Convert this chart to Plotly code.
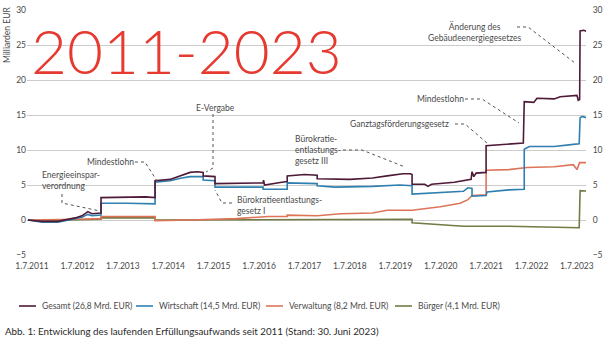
import plotly.graph_objects as go

# ---------------- data ----------------
gesamt_x = [2011.41, 2011.72, 2012.07, 2012.23, 2012.45, 2012.60, 2012.67, 2012.73, 2012.82, 2012.93,
            2013.02, 2013.02, 2013.5, 2014.0, 2014.21, 2014.21, 2014.54, 2014.80, 2014.98, 2015.15,
            2015.27, 2015.27, 2015.53, 2015.53, 2016.0, 2016.59, 2016.60, 2016.62, 2017.0, 2017.12,
            2017.12, 2017.5, 2017.78, 2017.78, 2018.5, 2019.0, 2019.32, 2019.67, 2019.83, 2019.87,
            2019.87, 2020.15, 2020.22, 2020.3, 2020.8, 2021.10, 2021.17, 2021.19, 2021.23, 2021.28,
            2021.50, 2021.50, 2022.0, 2022.32, 2022.34, 2022.55, 2022.62, 2023.0, 2023.13, 2023.50,
            2023.53, 2023.56, 2023.57, 2023.65, 2023.79]
gesamt_y = [0.0, -0.2, -0.2, 0.0, 0.3, 0.6, 1.0, 1.2, 0.9, 1.0,
            1.0, 3.2, 3.3, 3.3, 3.2, 5.6, 5.8, 6.4, 6.8, 6.9,
            6.8, 6.3, 6.2, 5.2, 5.2, 5.3, 5.7, 5.0, 5.4, 5.5,
            6.3, 6.5, 6.4, 5.9, 5.8, 6.0, 6.3, 6.6, 6.6, 6.5,
            5.1, 5.1, 4.8, 5.1, 5.4, 5.7, 5.8, 6.9, 6.2, 6.7,
            6.8, 10.6, 10.8, 11.0, 16.9, 16.8, 17.4, 17.3, 17.6, 17.8,
            17.1, 17.2, 27.0, 27.1, 26.8]

wirtschaft_x = [2011.41, 2011.72, 2012.07, 2012.23, 2012.45, 2012.60, 2012.73, 2012.82, 2013.02, 2013.02,
                2013.6, 2014.21, 2014.21, 2014.54, 2014.80, 2014.98, 2015.27, 2015.27, 2015.53, 2015.53,
                2016.59, 2016.59, 2017.12, 2017.12, 2017.78, 2017.78, 2018.17, 2019.0, 2019.6, 2019.87,
                2019.87, 2020.5, 2021.0, 2021.10, 2021.19, 2021.19, 2021.50, 2021.52, 2022.0, 2022.34,
                2022.34, 2022.45, 2023.0, 2023.42, 2023.55, 2023.57, 2023.62, 2023.79]
wirtschaft_y = [0.0, -0.3, -0.3, -0.1, 0.2, 0.4, 0.8, 0.6, 0.7, 2.4,
                2.4, 2.3, 5.4, 5.6, 6.0, 6.2, 6.2, 5.7, 5.6, 4.7,
                4.7, 4.4, 4.4, 5.3, 5.2, 4.9, 4.7, 4.8, 5.0, 4.9,
                3.7, 3.9, 4.1, 4.6, 4.5, 3.4, 3.5, 4.0, 4.3, 4.4,
                10.1, 10.5, 10.5, 10.8, 10.9, 14.6, 14.8, 14.4]

verwaltung_x = [2011.41, 2012.0, 2012.5, 2013.02, 2013.02, 2014.21, 2014.21, 2014.98, 2015.53, 2016.0,
                2016.7, 2017.12, 2017.12, 2017.78, 2018.3, 2019.0, 2019.32, 2019.87, 2020.49, 2020.93,
                2021.10, 2021.19, 2021.50, 2021.50, 2022.0, 2022.4, 2023.0, 2023.42, 2023.50, 2023.56,
                2023.79]
verwaltung_y = [0.0, 0.0, 0.1, 0.2, 0.5, 0.5, -0.1, 0.0, 0.1, 0.2,
                0.5, 0.5, 0.7, 0.6, 0.9, 1.0, 1.4, 1.4, 1.9, 2.4,
                2.9, 3.5, 3.6, 7.1, 7.2, 7.5, 7.6, 7.9, 7.2, 8.2,
                8.2]

buerger_x = [2011.41, 2011.72, 2012.3, 2013.02, 2013.02, 2014.21, 2014.21, 2016.0, 2017.12, 2018.5,
             2019.87, 2019.87, 2020.5, 2021.0, 2022.0, 2023.5, 2023.55, 2023.57, 2023.65, 2023.79]
buerger_y = [0.0, -0.1, 0.0, 0.1, 0.3, 0.3, 0.0, 0.0, 0.1, 0.1,
             0.1, -0.4, -0.7, -0.9, -0.9, -1.0, -1.1, 4.2, 4.2, 4.1]

tick_years = list(range(2011, 2024))
tick_pos = [y + 0.5 for y in tick_years]
tick_text = [f"1.7.{y}" for y in tick_years]
y_ticks = [-5, 0, 5, 10, 15, 20, 25, 30]

series_names = ["Gesamt (26,8 Mrd. EUR)", "Wirtschaft (14,5 Mrd. EUR)",
                "Verwaltung (8,2 Mrd. EUR)", "Bürger (4,1 Mrd. EUR)"]
colors = ["#4e1a38", "#2f80b0", "#dd7458", "#737a45"]

# ---------------- layout helpers ----------------
W, H = 604, 355
L, R, T, B = 27, 18, 10, 100
PW, PH = W - L - R, H - T - B
FONT = "Lato, 'Open Sans', sans-serif"
TXT = "#4a4a4a"


def fx(px):
    return (px - L) / PW


def fy(py):
    return (T + PH - py) / PH


fig = go.Figure()
fig.add_trace(go.Scatter(x=buerger_x, y=buerger_y, mode="lines", line=dict(color=colors[3], width=1.6),
                         name=series_names[3], showlegend=False))
fig.add_trace(go.Scatter(x=verwaltung_x, y=verwaltung_y, mode="lines", line=dict(color=colors[2], width=1.6),
                         name=series_names[2], showlegend=False))
fig.add_trace(go.Scatter(x=wirtschaft_x, y=wirtschaft_y, mode="lines", line=dict(color=colors[1], width=1.6),
                         name=series_names[1], showlegend=False))
fig.add_trace(go.Scatter(x=gesamt_x, y=gesamt_y, mode="lines", line=dict(color=colors[0], width=1.6),
                         name=series_names[0], showlegend=False, yaxis="y2"))

shapes = []
annotations = []

# leader lines (pixel paths) + annotation texts
leaders = [
    [(62, 194), (62, 203), (100, 211)],
    [(135, 162), (145, 162), (157, 181)],
    [(213, 114), (213, 168), (206, 172)],
    [(232, 203), (222, 203), (215, 190)],
    [(343, 150), (362, 150), (405, 167)],
    [(455, 124), (465, 124), (487, 143)],
    [(465, 99), (482, 99), (519, 123)],
    [(517, 27), (528, 27), (575, 63)],
]
for pts in leaders:
    path = "M " + " L ".join(f"{fx(a):.5f},{fy(b):.5f}" for a, b in pts)
    shapes.append(dict(type="path", path=path, xref="paper", yref="paper",
                       line=dict(color="#555555", width=1, dash="dot")))

labels = [
    ("Energieeinspar-<br>verordnung", 40, 180, "left", "left"),
    ("Mindestlohn", 85, 162, "left", "left"),
    ("E-Vergabe", 215, 108, "center", "center"),
    ("Bürokratieentlastungs-<br>gesetz I", 235, 205.5, "left", "left"),
    ("Bürokratie-<br>entlastungs-<br>gesetz III", 293, 150, "left", "left"),
    ("Ganztagsförderungsgesetz", 451, 124, "right", "left"),
    ("Mindestlohn", 415, 99, "left", "left"),
    ("Änderung des<br>Gebäudeenergiegesetzes", 475, 32, "center", "center"),
]
for text, x, y, xa, al in labels:
    annotations.append(dict(text=text, x=fx(x), y=fy(y), xref="paper", yref="paper",
                            xanchor=xa, yanchor="middle", align=al, showarrow=False,
                            font=dict(family=FONT, size=8.5, color=TXT)))

# handwritten-looking overlay text
annotations.append(dict(text="2011-2023", x=fx(186), y=fy(50), xref="paper", yref="paper",
                        xanchor="center", yanchor="middle", showarrow=False,
                        font=dict(family="Lato, sans-serif", size=62, weight=300, color="#e63a30")))

# y axis title
annotations.append(dict(text="Milliarden EUR", x=fx(7), y=fy(35), xref="paper", yref="paper",
                        textangle=-90, xanchor="center", yanchor="middle", showarrow=False,
                        font=dict(family=FONT, size=8.5, color=TXT)))

# manual legend
legend_pos = [(19, 40), (136, 157), (266, 287), (395, 416)]
for (lx, tx), name, col in zip(legend_pos, series_names, colors):
    shapes.append(dict(type="line", xref="paper", yref="paper", x0=fx(lx), x1=fx(lx + 17),
                       y0=fy(306), y1=fy(306), line=dict(color=col, width=1.6)))
    annotations.append(dict(text=name, x=fx(tx), y=fy(306), xref="paper", yref="paper",
                            xanchor="left", yanchor="middle", showarrow=False,
                            font=dict(family=FONT, size=8.5, color=TXT)))

# caption
annotations.append(dict(text="Abb. 1: Entwicklung des laufenden Erfüllungsaufwands seit 2011 (Stand: 30. Juni 2023)",
                        x=fx(3), y=fy(331), xref="paper", yref="paper", xanchor="left", yanchor="middle",
                        showarrow=False, font=dict(family=FONT, size=9.8, color="#2a2a2a")))

yax = dict(range=[-5, 30], tickvals=y_ticks, showline=False, zeroline=False,
           tickfont=dict(family=FONT, size=8.5, color=TXT), fixedrange=True)

fig.update_layout(
    width=W, height=H,
    margin=dict(l=L, r=R, t=T, b=B, autoexpand=False),
    paper_bgcolor="white", plot_bgcolor="white",
    showlegend=False,
    xaxis=dict(range=[2011.39, 2023.70], tickvals=tick_pos, ticktext=tick_text, showgrid=False,
               zeroline=False, showline=False, ticks="outside", ticklen=3, tickcolor="rgba(0,0,0,0)",
               tickfont=dict(family=FONT, size=8.5, color=TXT), fixedrange=True),
    yaxis=dict(**yax, showgrid=True, gridcolor="#cccccc", gridwidth=1, side="left"),
    yaxis2=dict(**yax, showgrid=False, overlaying="y", side="right",
                ticks="outside", ticklen=4, tickcolor="rgba(0,0,0,0)"),
    shapes=shapes,
    annotations=annotations,
)

fig.write_html("out.html", config={"displayModeBar": False},
               post_script="document.body.style.margin='0';")
